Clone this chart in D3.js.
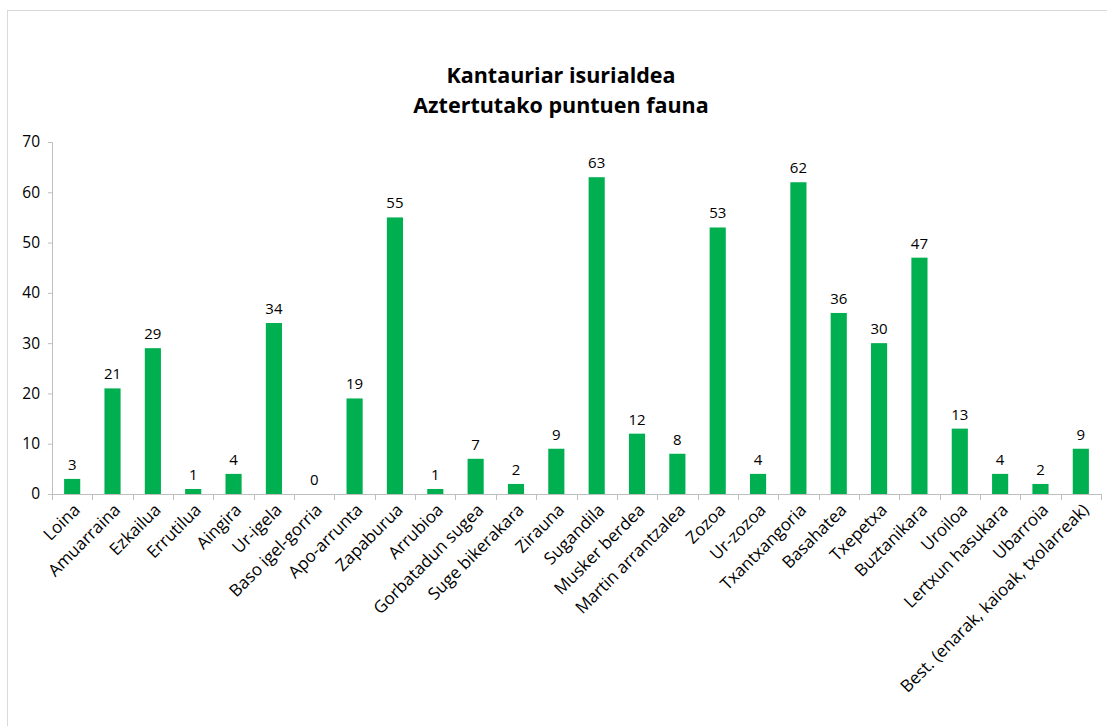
<!DOCTYPE html>
<html><head><meta charset="utf-8">
<script src="https://cdn.jsdelivr.net/npm/d3@7"></script>
<style>body{margin:0;background:#fff}svg{display:block}</style>
</head><body>
<script>
const categories = ["Loina","Amuarraina","Ezkailua","Errutilua","Aingira","Ur-igela","Baso igel-gorria","Apo-arrunta","Zapaburua","Arrubioa","Gorbatadun sugea","Suge bikerakara","Zirauna","Sugandila","Musker berdea","Martin arrantzalea","Zozoa","Ur-zozoa","Txantxangoria","Basahatea","Txepetxa","Buztanikara","Uroiloa","Lertxun hasukara","Ubarroia","Best. (enarak, kaioak, txolarreak)"];
const values = [3,21,29,1,4,34,0,19,55,1,7,2,9,63,12,8,53,4,62,36,30,47,13,4,2,9];
const yTicks = [0,10,20,30,40,50,60,70];
const titleLines = ["Kantauriar isurialdea","Aztertutako puntuen fauna"];

const W = 1107, H = 726;
const svg = d3.select("body").append("svg").attr("width", W).attr("height", H);
svg.append("rect").attr("x",7.5).attr("y",10.5).attr("width",W).attr("height",H).attr("fill","#fff").attr("stroke","#d9d9d9");

const m = {l:52, r:1101, t:142, b:494};
const x = d3.scaleBand().domain(categories).range([m.l, m.r]).paddingInner(0.6).paddingOuter(0.3);
const y = d3.scaleLinear().domain([0,70]).range([m.b, m.t]);
const font = "'Open Sans', sans-serif";

svg.selectAll("text.title").data(titleLines).enter().append("text")
  .attr("x", 561).attr("y",(d,i)=>83+i*30).attr("text-anchor","middle")
  .attr("font-family",font).attr("font-weight","bold").attr("font-size",21.5).attr("fill","#000").text(d=>d);

// y axis
const ya = svg.append("g").attr("transform",`translate(${m.l},0)`)
  .call(d3.axisLeft(y).tickValues(yTicks).tickSize(4).tickPadding(8));
ya.select(".domain").attr("stroke","#bfbfbf");
ya.selectAll(".tick line").attr("stroke","#bfbfbf");
ya.selectAll("text").attr("font-family",font).attr("font-size",15.5).attr("fill","#000");

// x axis line and ticks at category boundaries
svg.append("line").attr("x1",m.l).attr("x2",m.r).attr("y1",m.b+0.5).attr("y2",m.b+0.5).attr("stroke","#bfbfbf");
const bounds = d3.range(categories.length+1).map(i=> m.l + i*(m.r-m.l)/categories.length);
svg.selectAll("line.xt").data(bounds).enter().append("line")
  .attr("x1",d=>Math.round(d)+0.5).attr("x2",d=>Math.round(d)+0.5).attr("y1",m.b).attr("y2",m.b+6).attr("stroke","#bfbfbf");

// bars
svg.selectAll("rect.bar").data(values).enter().append("rect")
  .attr("x",(d,i)=>x(categories[i])).attr("width",x.bandwidth())
  .attr("y",d=>y(d)).attr("height",d=>y(0)-y(d)).attr("fill","#00b050");

svg.selectAll("text.val").data(values).enter().append("text")
  .attr("x",(d,i)=>x(categories[i])+x.bandwidth()/2).attr("y",d=>y(d)-9)
  .attr("text-anchor","middle").attr("font-family",font).attr("font-size",15).attr("fill","#000").text(d=>d);

// x labels
svg.selectAll("text.xl").data(categories).enter().append("text")
  .attr("transform",d=>`translate(${x(d)+x.bandwidth()/2+9},${m.b+17}) rotate(-45)`)
  .attr("text-anchor","end").attr("font-family",font).attr("font-size",17).attr("fill","#000").text(d=>d);
</script>
</body></html>
